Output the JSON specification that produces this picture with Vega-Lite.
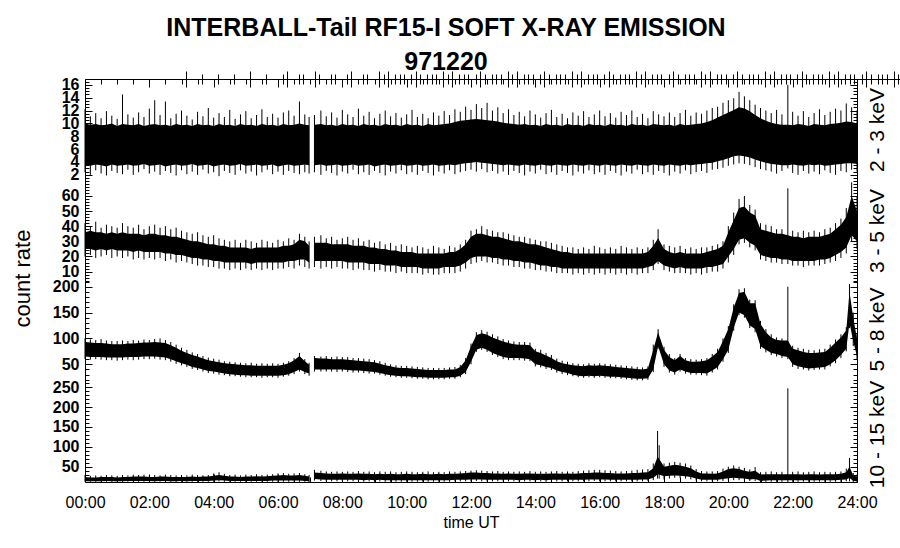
{
"$schema": "https://vega.github.io/schema/vega-lite/v6.json",
"width": 772, "height": 403,
"autosize": {"type": "none"},
"padding": {"left": 85, "top": 79, "right": 43, "bottom": 66},
"background": "white",
"title": {"text": ["INTERBALL-Tail RF15-I SOFT X-RAY EMISSION", "971220"], "fontSize": 25, "fontWeight": "bold", "anchor": "middle", "lineHeight": 34, "offset": 6, "dx": -25, "dy": 10, "color": "black", "font": "Liberation Sans"},
"datasets": {
"p1": [
{"t":0,"a":3.5,"b":10.0,"c":2.4,"d":12.2},{"t":10,"a":3.4,"b":9.8,"c":2.0,"d":11.1},{"t":20,"a":3.6,"b":9.9,"c":2.7,"d":11.6},{"t":30,"a":3.5,"b":9.7,"c":2.2,"d":10.8},{"t":40,"a":3.3,"b":9.8,"c":1.9,"d":11.9},{"t":50,"a":3.6,"b":10.0,"c":2.6,"d":11.2},{"t":60,"a":3.4,"b":9.6,"c":2.3,"d":10.7},{"t":70,"a":3.5,"b":9.9,"c":2.1,"d":14.5},{"t":80,"a":3.6,"b":9.8,"c":2.8,"d":11.4},{"t":90,"a":3.4,"b":9.7,"c":2.0,"d":10.9},
{"t":100,"a":3.5,"b":9.9,"c":2.4,"d":11.7},{"t":110,"a":3.7,"b":9.6,"c":2.9,"d":11.0},{"t":120,"a":3.4,"b":9.8,"c":2.2,"d":12.3},{"t":130,"a":3.5,"b":9.9,"c":2.5,"d":13.6},{"t":140,"a":3.6,"b":9.7,"c":2.0,"d":11.3},{"t":150,"a":3.3,"b":9.8,"c":2.6,"d":13.4},{"t":160,"a":3.5,"b":9.6,"c":2.3,"d":10.8},{"t":170,"a":3.6,"b":9.9,"c":1.9,"d":11.5},{"t":180,"a":3.4,"b":9.7,"c":2.7,"d":12.0},{"t":190,"a":3.5,"b":9.8,"c":2.1,"d":11.2},
{"t":200,"a":3.7,"b":9.6,"c":2.5,"d":10.6},{"t":210,"a":3.4,"b":9.9,"c":2.0,"d":11.8},{"t":220,"a":3.5,"b":9.7,"c":2.8,"d":11.1},{"t":230,"a":3.6,"b":9.8,"c":2.2,"d":12.4},{"t":240,"a":3.3,"b":9.6,"c":2.4,"d":10.9},{"t":250,"a":3.5,"b":9.9,"c":1.8,"d":11.6},{"t":260,"a":3.6,"b":9.7,"c":2.6,"d":11.0},{"t":270,"a":3.4,"b":9.8,"c":2.3,"d":12.1},{"t":280,"a":3.5,"b":9.6,"c":2.0,"d":10.7},{"t":290,"a":3.7,"b":9.9,"c":2.7,"d":11.4},
{"t":300,"a":3.4,"b":9.7,"c":2.2,"d":11.9},{"t":310,"a":3.5,"b":9.8,"c":2.5,"d":10.8},{"t":320,"a":3.6,"b":9.6,"c":1.9,"d":11.3},{"t":330,"a":3.4,"b":9.9,"c":2.4,"d":12.2},{"t":340,"a":3.5,"b":9.7,"c":2.8,"d":11.0},{"t":350,"a":3.6,"b":9.8,"c":2.1,"d":11.5},{"t":360,"a":3.3,"b":9.6,"c":2.5,"d":10.9},{"t":370,"a":3.5,"b":9.9,"c":2.0,"d":11.7},{"t":380,"a":3.6,"b":9.7,"c":2.6,"d":12.0},{"t":390,"a":3.4,"b":9.8,"c":2.3,"d":11.2},
{"t":400,"a":3.5,"b":10.0,"c":2.1,"d":13.4},{"t":410,"a":3.6,"b":9.8,"c":2.4,"d":11.4},{"t":418,"a":3.5,"b":9.7,"c":2.2,"d":11.0},{"t":423,"a":null,"b":null,"c":null,"d":null},{"t":428,"a":3.5,"b":9.8,"c":2.4,"d":11.3},{"t":440,"a":3.6,"b":9.9,"c":2.0,"d":12.0},{"t":450,"a":3.4,"b":9.7,"c":2.6,"d":11.1},{"t":460,"a":3.5,"b":9.8,"c":2.3,"d":11.7},{"t":470,"a":3.6,"b":9.6,"c":1.9,"d":10.9},{"t":480,"a":3.4,"b":9.9,"c":2.5,"d":12.1},{"t":490,"a":3.5,"b":9.7,"c":2.2,"d":11.4},
{"t":500,"a":3.6,"b":9.8,"c":2.8,"d":11.0},{"t":510,"a":3.4,"b":9.6,"c":2.1,"d":12.3},{"t":520,"a":3.5,"b":9.9,"c":2.4,"d":11.2},{"t":530,"a":3.6,"b":9.7,"c":2.0,"d":11.8},{"t":540,"a":3.3,"b":9.8,"c":2.6,"d":10.8},{"t":550,"a":3.5,"b":9.6,"c":2.3,"d":11.5},{"t":560,"a":3.6,"b":9.9,"c":1.9,"d":12.0},{"t":570,"a":3.4,"b":9.7,"c":2.5,"d":11.1},{"t":580,"a":3.5,"b":9.8,"c":2.2,"d":11.6},{"t":590,"a":3.6,"b":9.6,"c":2.7,"d":10.9},
{"t":600,"a":3.4,"b":9.9,"c":2.1,"d":11.4},{"t":610,"a":3.5,"b":9.7,"c":2.4,"d":12.1},{"t":620,"a":3.6,"b":9.8,"c":2.0,"d":11.0},{"t":630,"a":3.4,"b":9.6,"c":2.6,"d":11.5},{"t":640,"a":3.5,"b":9.9,"c":2.3,"d":10.8},{"t":650,"a":3.6,"b":9.7,"c":1.9,"d":11.7},{"t":660,"a":3.4,"b":9.8,"c":2.5,"d":11.2},{"t":670,"a":3.5,"b":9.9,"c":2.2,"d":11.9},{"t":680,"a":3.6,"b":10.0,"c":2.7,"d":11.3},{"t":690,"a":3.5,"b":10.2,"c":2.1,"d":12.2},
{"t":700,"a":3.7,"b":10.4,"c":2.4,"d":11.8},{"t":710,"a":3.8,"b":10.5,"c":2.6,"d":12.6},{"t":720,"a":3.9,"b":10.6,"c":2.8,"d":12.1},{"t":730,"a":4.0,"b":10.7,"c":2.5,"d":13.0},{"t":740,"a":3.9,"b":10.6,"c":2.9,"d":12.4},{"t":750,"a":3.8,"b":10.5,"c":2.4,"d":13.2},{"t":760,"a":3.7,"b":10.4,"c":2.6,"d":12.0},{"t":770,"a":3.6,"b":10.3,"c":2.2,"d":12.5},{"t":780,"a":3.5,"b":10.1,"c":2.5,"d":11.6},{"t":790,"a":3.6,"b":10.0,"c":2.0,"d":12.2},
{"t":800,"a":3.5,"b":9.9,"c":2.6,"d":11.3},{"t":810,"a":3.4,"b":9.8,"c":2.3,"d":11.8},{"t":820,"a":3.6,"b":9.9,"c":1.9,"d":11.1},{"t":830,"a":3.5,"b":9.7,"c":2.5,"d":12.0},{"t":840,"a":3.4,"b":9.8,"c":2.2,"d":11.4},{"t":850,"a":3.6,"b":9.6,"c":2.8,"d":10.9},{"t":860,"a":3.5,"b":9.9,"c":2.1,"d":11.6},{"t":870,"a":3.4,"b":9.7,"c":2.4,"d":12.1},{"t":880,"a":3.6,"b":9.8,"c":2.0,"d":11.0},{"t":890,"a":3.5,"b":9.6,"c":2.6,"d":11.5},
{"t":900,"a":3.4,"b":9.9,"c":2.3,"d":10.8},{"t":910,"a":3.6,"b":9.7,"c":1.9,"d":11.7},{"t":920,"a":3.5,"b":9.8,"c":2.5,"d":11.2},{"t":930,"a":3.4,"b":9.6,"c":2.2,"d":11.9},{"t":940,"a":3.6,"b":9.9,"c":2.7,"d":11.0},{"t":950,"a":3.5,"b":9.7,"c":2.1,"d":11.4},{"t":960,"a":3.4,"b":9.8,"c":2.4,"d":12.0},{"t":970,"a":3.6,"b":9.6,"c":2.0,"d":11.1},{"t":980,"a":3.5,"b":9.9,"c":2.6,"d":11.6},{"t":990,"a":3.4,"b":9.7,"c":2.3,"d":10.9},
{"t":1000,"a":3.6,"b":9.8,"c":1.9,"d":11.8},{"t":1010,"a":3.5,"b":9.6,"c":2.5,"d":11.3},{"t":1020,"a":3.4,"b":9.9,"c":2.2,"d":12.0},{"t":1030,"a":3.6,"b":9.7,"c":2.8,"d":11.0},{"t":1040,"a":3.5,"b":9.8,"c":2.1,"d":11.5},{"t":1050,"a":3.4,"b":9.6,"c":2.4,"d":10.8},{"t":1060,"a":3.6,"b":9.9,"c":2.0,"d":11.9},{"t":1070,"a":3.5,"b":9.8,"c":2.6,"d":11.4},{"t":1080,"a":3.4,"b":9.7,"c":2.3,"d":11.1},{"t":1090,"a":3.6,"b":9.8,"c":1.9,"d":11.7},
{"t":1100,"a":3.5,"b":9.6,"c":2.5,"d":11.0},{"t":1110,"a":3.4,"b":9.9,"c":2.2,"d":11.6},{"t":1120,"a":3.6,"b":9.7,"c":2.7,"d":12.1},{"t":1130,"a":3.5,"b":9.8,"c":2.1,"d":11.2},{"t":1140,"a":3.6,"b":9.9,"c":2.4,"d":11.7},{"t":1150,"a":3.7,"b":10.0,"c":2.6,"d":11.5},{"t":1160,"a":3.8,"b":10.2,"c":2.3,"d":12.0},{"t":1170,"a":3.9,"b":10.5,"c":2.8,"d":12.4},{"t":1180,"a":4.1,"b":10.9,"c":2.9,"d":12.6},{"t":1190,"a":4.3,"b":11.3,"c":3.1,"d":13.2},
{"t":1200,"a":4.6,"b":11.7,"c":3.4,"d":13.6},{"t":1210,"a":4.9,"b":12.1,"c":3.6,"d":13.9},{"t":1220,"a":5.0,"b":12.5,"c":3.8,"d":14.9},{"t":1230,"a":4.9,"b":12.3,"c":3.7,"d":14.2},{"t":1240,"a":4.7,"b":11.9,"c":3.5,"d":13.6},{"t":1250,"a":4.4,"b":11.3,"c":3.2,"d":12.9},{"t":1260,"a":4.1,"b":10.8,"c":2.9,"d":12.4},{"t":1270,"a":3.9,"b":10.4,"c":2.7,"d":12.0},{"t":1280,"a":3.7,"b":10.1,"c":2.5,"d":11.6},{"t":1290,"a":3.6,"b":9.9,"c":2.2,"d":12.1},
{"t":1300,"a":3.5,"b":9.8,"c":2.6,"d":11.4},{"t":1311,"a":3.5,"b":9.8,"c":3.0,"d":16.0},{"t":1320,"a":3.6,"b":9.7,"c":2.3,"d":11.8},{"t":1330,"a":3.5,"b":9.9,"c":2.0,"d":11.2},{"t":1340,"a":3.4,"b":9.8,"c":2.6,"d":11.9},{"t":1350,"a":3.6,"b":9.6,"c":2.2,"d":11.0},{"t":1360,"a":3.5,"b":9.9,"c":2.5,"d":11.6},{"t":1370,"a":3.6,"b":9.8,"c":2.1,"d":12.2},{"t":1380,"a":3.4,"b":9.7,"c":2.7,"d":11.3},{"t":1390,"a":3.5,"b":9.9,"c":2.3,"d":11.8},
{"t":1400,"a":3.6,"b":10.0,"c":2.0,"d":12.3},{"t":1410,"a":3.7,"b":10.1,"c":2.6,"d":12.0},{"t":1420,"a":3.8,"b":10.3,"c":2.4,"d":13.1},{"t":1430,"a":3.8,"b":10.2,"c":2.8,"d":12.5},{"t":1440,"a":3.7,"b":10.0,"c":2.5,"d":12.0}
],
"p2": [
{"t":0,"a":25,"b":36,"c":20,"d":42},{"t":10,"a":25,"b":37,"c":21,"d":40},{"t":20,"a":24,"b":36,"c":19,"d":43},{"t":30,"a":25,"b":36,"c":20,"d":39},{"t":40,"a":24,"b":35,"c":21,"d":41},{"t":50,"a":25,"b":36,"c":19,"d":40},{"t":60,"a":24,"b":35,"c":20,"d":39},{"t":70,"a":24,"b":36,"c":19,"d":42},{"t":80,"a":24,"b":35,"c":20,"d":40},{"t":90,"a":23,"b":35,"c":18,"d":39},
{"t":100,"a":24,"b":35,"c":19,"d":41},{"t":110,"a":23,"b":34,"c":18,"d":38},{"t":120,"a":23,"b":35,"c":19,"d":40},{"t":130,"a":23,"b":35,"c":18,"d":41},{"t":140,"a":23,"b":34,"c":19,"d":39},{"t":150,"a":22,"b":34,"c":17,"d":40},{"t":160,"a":22,"b":33,"c":18,"d":38},{"t":170,"a":21,"b":33,"c":16,"d":39},{"t":180,"a":21,"b":32,"c":17,"d":37},{"t":190,"a":20,"b":31,"c":16,"d":36},
{"t":200,"a":19,"b":30,"c":15,"d":35},{"t":210,"a":19,"b":30,"c":14,"d":36},{"t":220,"a":18,"b":29,"c":14,"d":34},{"t":230,"a":18,"b":28,"c":13,"d":33},{"t":240,"a":17,"b":28,"c":13,"d":34},{"t":250,"a":17,"b":27,"c":12,"d":32},{"t":260,"a":16,"b":27,"c":12,"d":31},{"t":270,"a":16,"b":26,"c":11,"d":30},{"t":280,"a":16,"b":26,"c":12,"d":31},{"t":290,"a":16,"b":26,"c":11,"d":29},
{"t":300,"a":16,"b":26,"c":12,"d":31},{"t":310,"a":15,"b":25,"c":11,"d":30},{"t":320,"a":16,"b":26,"c":12,"d":29},{"t":330,"a":16,"b":26,"c":11,"d":31},{"t":340,"a":16,"b":26,"c":12,"d":30},{"t":350,"a":16,"b":26,"c":11,"d":29},{"t":360,"a":16,"b":26,"c":12,"d":31},{"t":370,"a":16,"b":27,"c":12,"d":30},{"t":380,"a":17,"b":27,"c":13,"d":32},{"t":390,"a":17,"b":28,"c":12,"d":31},
{"t":400,"a":18,"b":31,"c":14,"d":35},{"t":410,"a":18,"b":30,"c":13,"d":33},{"t":418,"a":16,"b":27,"c":12,"d":30},{"t":423,"a":null,"b":null,"c":null,"d":null},{"t":428,"a":17,"b":29,"c":13,"d":33},{"t":440,"a":17,"b":29,"c":12,"d":34},{"t":450,"a":17,"b":29,"c":13,"d":32},{"t":460,"a":17,"b":28,"c":12,"d":33},{"t":470,"a":17,"b":28,"c":13,"d":31},{"t":480,"a":17,"b":28,"c":12,"d":32},{"t":490,"a":16,"b":28,"c":12,"d":33},
{"t":500,"a":16,"b":27,"c":11,"d":31},{"t":510,"a":16,"b":27,"c":12,"d":32},{"t":520,"a":16,"b":27,"c":11,"d":30},{"t":530,"a":15,"b":26,"c":11,"d":31},{"t":540,"a":15,"b":26,"c":10,"d":29},{"t":550,"a":15,"b":25,"c":11,"d":30},{"t":560,"a":14,"b":25,"c":10,"d":28},{"t":570,"a":14,"b":24,"c":10,"d":29},{"t":580,"a":14,"b":24,"c":9,"d":27},{"t":590,"a":13,"b":23,"c":10,"d":28},
{"t":600,"a":13,"b":23,"c":9,"d":27},{"t":610,"a":13,"b":23,"c":9,"d":26},{"t":620,"a":13,"b":22,"c":9,"d":27},{"t":630,"a":12,"b":22,"c":8,"d":26},{"t":640,"a":12,"b":22,"c":9,"d":25},{"t":650,"a":12,"b":22,"c":8,"d":27},{"t":660,"a":12,"b":22,"c":8,"d":26},{"t":670,"a":13,"b":22,"c":9,"d":25},{"t":680,"a":13,"b":23,"c":9,"d":27},{"t":690,"a":13,"b":23,"c":9,"d":26},
{"t":700,"a":14,"b":25,"c":10,"d":28},{"t":710,"a":16,"b":28,"c":12,"d":31},{"t":720,"a":19,"b":33,"c":15,"d":37},{"t":730,"a":20,"b":35,"c":16,"d":38},{"t":740,"a":20,"b":35,"c":17,"d":40},{"t":750,"a":20,"b":34,"c":16,"d":38},{"t":760,"a":19,"b":33,"c":16,"d":37},{"t":770,"a":19,"b":33,"c":15,"d":36},{"t":780,"a":18,"b":32,"c":14,"d":36},{"t":790,"a":18,"b":31,"c":14,"d":35},
{"t":800,"a":17,"b":30,"c":13,"d":34},{"t":810,"a":17,"b":30,"c":13,"d":33},{"t":820,"a":16,"b":29,"c":12,"d":33},{"t":830,"a":16,"b":28,"c":12,"d":32},{"t":840,"a":15,"b":28,"c":11,"d":31},{"t":850,"a":14,"b":27,"c":11,"d":30},{"t":860,"a":14,"b":26,"c":10,"d":30},{"t":870,"a":13,"b":25,"c":10,"d":29},{"t":880,"a":13,"b":24,"c":9,"d":28},{"t":890,"a":12,"b":23,"c":9,"d":27},
{"t":900,"a":12,"b":23,"c":9,"d":26},{"t":910,"a":12,"b":22,"c":8,"d":26},{"t":920,"a":12,"b":22,"c":9,"d":25},{"t":930,"a":12,"b":22,"c":8,"d":26},{"t":940,"a":12,"b":22,"c":9,"d":25},{"t":950,"a":12,"b":22,"c":8,"d":27},{"t":960,"a":12,"b":22,"c":9,"d":26},{"t":970,"a":12,"b":22,"c":8,"d":25},{"t":980,"a":12,"b":22,"c":9,"d":26},{"t":990,"a":12,"b":22,"c":8,"d":25},
{"t":1000,"a":12,"b":22,"c":9,"d":27},{"t":1010,"a":12,"b":22,"c":8,"d":26},{"t":1020,"a":12,"b":22,"c":9,"d":25},{"t":1030,"a":12,"b":22,"c":8,"d":26},{"t":1040,"a":12,"b":22,"c":9,"d":25},{"t":1050,"a":13,"b":23,"c":9,"d":26},{"t":1060,"a":14,"b":27,"c":11,"d":31},{"t":1069,"a":17,"b":32,"c":15,"d":38},{"t":1080,"a":14,"b":25,"c":11,"d":28},{"t":1090,"a":13,"b":23,"c":10,"d":27},
{"t":1100,"a":12,"b":22,"c":9,"d":26},{"t":1110,"a":13,"b":23,"c":9,"d":27},{"t":1120,"a":12,"b":22,"c":9,"d":25},{"t":1130,"a":12,"b":22,"c":8,"d":26},{"t":1140,"a":12,"b":22,"c":9,"d":25},{"t":1150,"a":12,"b":22,"c":8,"d":26},{"t":1160,"a":13,"b":23,"c":9,"d":26},{"t":1170,"a":13,"b":24,"c":10,"d":27},{"t":1180,"a":14,"b":25,"c":10,"d":28},{"t":1190,"a":15,"b":27,"c":12,"d":30},
{"t":1200,"a":20,"b":36,"c":16,"d":40},{"t":1210,"a":25,"b":44,"c":21,"d":49},{"t":1220,"a":31,"b":52,"c":28,"d":58},{"t":1230,"a":32,"b":53,"c":29,"d":60},{"t":1240,"a":29,"b":49,"c":26,"d":54},{"t":1250,"a":27,"b":47,"c":24,"d":51},{"t":1260,"a":21,"b":38,"c":18,"d":42},{"t":1270,"a":20,"b":37,"c":17,"d":41},{"t":1280,"a":19,"b":36,"c":16,"d":40},{"t":1290,"a":19,"b":35,"c":16,"d":38},
{"t":1300,"a":18,"b":35,"c":15,"d":38},{"t":1311,"a":18,"b":34,"c":15,"d":65},{"t":1320,"a":17,"b":33,"c":14,"d":37},{"t":1330,"a":17,"b":33,"c":14,"d":36},{"t":1340,"a":17,"b":32,"c":13,"d":37},{"t":1350,"a":17,"b":33,"c":14,"d":36},{"t":1360,"a":17,"b":33,"c":14,"d":37},{"t":1370,"a":18,"b":33,"c":14,"d":36},{"t":1380,"a":18,"b":34,"c":15,"d":38},{"t":1390,"a":19,"b":35,"c":16,"d":39},
{"t":1400,"a":21,"b":38,"c":17,"d":42},{"t":1410,"a":23,"b":41,"c":19,"d":45},{"t":1420,"a":26,"b":46,"c":22,"d":52},{"t":1430,"a":34,"b":60,"c":30,"d":69},{"t":1440,"a":30,"b":50,"c":25,"d":60}
],
"p3": [
{"t":0,"a":65,"b":93,"c":60,"d":100},{"t":10,"a":64,"b":92,"c":59,"d":98},{"t":20,"a":64,"b":91,"c":60,"d":97},{"t":30,"a":64,"b":91,"c":59,"d":99},{"t":40,"a":63,"b":90,"c":58,"d":96},{"t":50,"a":63,"b":89,"c":58,"d":95},{"t":60,"a":63,"b":89,"c":57,"d":95},{"t":70,"a":63,"b":89,"c":58,"d":96},{"t":80,"a":64,"b":90,"c":59,"d":95},{"t":90,"a":64,"b":90,"c":58,"d":97},
{"t":100,"a":64,"b":91,"c":59,"d":96},{"t":110,"a":65,"b":92,"c":60,"d":98},{"t":120,"a":65,"b":92,"c":60,"d":97},{"t":130,"a":65,"b":93,"c":61,"d":99},{"t":140,"a":64,"b":92,"c":59,"d":100},{"t":150,"a":63,"b":91,"c":58,"d":97},{"t":160,"a":60,"b":87,"c":55,"d":93},{"t":170,"a":56,"b":82,"c":51,"d":88},{"t":180,"a":52,"b":76,"c":48,"d":82},{"t":190,"a":49,"b":72,"c":45,"d":78},
{"t":200,"a":45,"b":68,"c":41,"d":73},{"t":210,"a":43,"b":65,"c":39,"d":70},{"t":220,"a":40,"b":61,"c":36,"d":66},{"t":230,"a":37,"b":58,"c":33,"d":63},{"t":240,"a":36,"b":56,"c":32,"d":61},{"t":250,"a":34,"b":54,"c":30,"d":59},{"t":260,"a":32,"b":52,"c":29,"d":56},{"t":270,"a":31,"b":51,"c":27,"d":55},{"t":280,"a":30,"b":50,"c":27,"d":54},{"t":290,"a":29,"b":49,"c":26,"d":53},
{"t":300,"a":29,"b":48,"c":25,"d":52},{"t":310,"a":28,"b":48,"c":25,"d":53},{"t":320,"a":28,"b":47,"c":25,"d":51},{"t":330,"a":28,"b":47,"c":24,"d":52},{"t":340,"a":28,"b":47,"c":25,"d":51},{"t":350,"a":28,"b":47,"c":25,"d":52},{"t":360,"a":28,"b":47,"c":24,"d":51},{"t":370,"a":29,"b":49,"c":26,"d":53},{"t":380,"a":31,"b":52,"c":28,"d":56},{"t":390,"a":35,"b":58,"c":31,"d":62},
{"t":400,"a":40,"b":66,"c":36,"d":72},{"t":410,"a":35,"b":56,"c":31,"d":60},{"t":418,"a":32,"b":49,"c":28,"d":53},{"t":423,"a":null,"b":null,"c":null,"d":null},{"t":428,"a":40,"b":62,"c":36,"d":66},{"t":440,"a":40,"b":61,"c":36,"d":65},{"t":450,"a":40,"b":61,"c":36,"d":66},{"t":460,"a":40,"b":60,"c":36,"d":64},{"t":470,"a":40,"b":60,"c":35,"d":65},{"t":480,"a":40,"b":60,"c":36,"d":64},{"t":490,"a":39,"b":59,"c":35,"d":64},
{"t":500,"a":38,"b":58,"c":34,"d":62},{"t":510,"a":38,"b":57,"c":34,"d":62},{"t":520,"a":37,"b":56,"c":33,"d":61},{"t":530,"a":36,"b":55,"c":32,"d":60},{"t":540,"a":35,"b":54,"c":32,"d":58},{"t":550,"a":33,"b":51,"c":30,"d":56},{"t":560,"a":31,"b":48,"c":28,"d":53},{"t":570,"a":29,"b":46,"c":26,"d":50},{"t":580,"a":28,"b":44,"c":25,"d":48},{"t":590,"a":27,"b":43,"c":24,"d":47},
{"t":600,"a":27,"b":43,"c":24,"d":47},{"t":610,"a":26,"b":42,"c":23,"d":46},{"t":620,"a":25,"b":41,"c":22,"d":45},{"t":630,"a":25,"b":40,"c":22,"d":44},{"t":640,"a":24,"b":39,"c":21,"d":43},{"t":650,"a":24,"b":39,"c":21,"d":43},{"t":660,"a":24,"b":39,"c":21,"d":43},{"t":670,"a":24,"b":39,"c":21,"d":43},{"t":680,"a":25,"b":40,"c":22,"d":44},{"t":690,"a":25,"b":40,"c":22,"d":45},
{"t":700,"a":28,"b":45,"c":25,"d":49},{"t":710,"a":35,"b":58,"c":31,"d":62},{"t":720,"a":55,"b":85,"c":50,"d":90},{"t":730,"a":78,"b":106,"c":74,"d":112},{"t":740,"a":82,"b":110,"c":78,"d":116},{"t":750,"a":78,"b":107,"c":74,"d":113},{"t":760,"a":72,"b":102,"c":68,"d":108},{"t":770,"a":68,"b":98,"c":64,"d":104},{"t":780,"a":64,"b":94,"c":60,"d":99},{"t":790,"a":62,"b":91,"c":58,"d":96},
{"t":800,"a":62,"b":89,"c":58,"d":94},{"t":810,"a":62,"b":88,"c":58,"d":93},{"t":820,"a":61,"b":88,"c":57,"d":93},{"t":830,"a":60,"b":87,"c":56,"d":92},{"t":840,"a":50,"b":75,"c":46,"d":80},{"t":850,"a":48,"b":72,"c":44,"d":78},{"t":860,"a":45,"b":67,"c":41,"d":72},{"t":870,"a":43,"b":62,"c":39,"d":68},{"t":880,"a":38,"b":56,"c":34,"d":61},{"t":890,"a":35,"b":52,"c":31,"d":57},
{"t":900,"a":33,"b":50,"c":29,"d":55},{"t":910,"a":30,"b":48,"c":27,"d":52},{"t":920,"a":28,"b":47,"c":25,"d":51},{"t":930,"a":27,"b":46,"c":24,"d":50},{"t":940,"a":28,"b":48,"c":25,"d":52},{"t":950,"a":27,"b":47,"c":24,"d":51},{"t":960,"a":28,"b":48,"c":25,"d":52},{"t":970,"a":27,"b":47,"c":24,"d":51},{"t":980,"a":26,"b":46,"c":23,"d":50},{"t":990,"a":26,"b":45,"c":23,"d":49},
{"t":1000,"a":25,"b":44,"c":22,"d":48},{"t":1010,"a":24,"b":43,"c":21,"d":47},{"t":1020,"a":23,"b":42,"c":20,"d":46},{"t":1030,"a":22,"b":41,"c":19,"d":45},{"t":1040,"a":22,"b":40,"c":19,"d":44},{"t":1050,"a":23,"b":42,"c":20,"d":46},{"t":1060,"a":40,"b":78,"c":35,"d":88},{"t":1069,"a":85,"b":112,"c":80,"d":118},{"t":1080,"a":50,"b":78,"c":45,"d":84},{"t":1090,"a":38,"b":64,"c":34,"d":70},
{"t":1100,"a":34,"b":58,"c":30,"d":62},{"t":1110,"a":40,"b":66,"c":36,"d":70},{"t":1120,"a":36,"b":58,"c":32,"d":62},{"t":1130,"a":33,"b":55,"c":30,"d":60},{"t":1140,"a":33,"b":55,"c":30,"d":59},{"t":1150,"a":33,"b":56,"c":29,"d":60},{"t":1160,"a":32,"b":58,"c":28,"d":62},{"t":1170,"a":38,"b":65,"c":34,"d":70},{"t":1180,"a":45,"b":74,"c":40,"d":80},{"t":1190,"a":60,"b":95,"c":55,"d":100},
{"t":1200,"a":78,"b":118,"c":72,"d":124},{"t":1210,"a":120,"b":160,"c":115,"d":166},{"t":1220,"a":150,"b":188,"c":145,"d":195},{"t":1230,"a":145,"b":190,"c":140,"d":197},{"t":1240,"a":125,"b":168,"c":120,"d":175},{"t":1250,"a":118,"b":168,"c":112,"d":174},{"t":1260,"a":85,"b":128,"c":80,"d":134},{"t":1270,"a":78,"b":112,"c":73,"d":118},{"t":1280,"a":72,"b":102,"c":68,"d":108},{"t":1290,"a":70,"b":97,"c":65,"d":102},
{"t":1300,"a":66,"b":96,"c":62,"d":100},{"t":1311,"a":64,"b":96,"c":60,"d":200},{"t":1320,"a":50,"b":80,"c":45,"d":86},{"t":1330,"a":46,"b":77,"c":41,"d":82},{"t":1340,"a":44,"b":74,"c":40,"d":80},{"t":1350,"a":42,"b":72,"c":38,"d":78},{"t":1360,"a":43,"b":72,"c":39,"d":77},{"t":1370,"a":44,"b":73,"c":40,"d":79},{"t":1380,"a":45,"b":74,"c":40,"d":80},{"t":1390,"a":50,"b":82,"c":46,"d":88},
{"t":1400,"a":58,"b":92,"c":52,"d":98},{"t":1410,"a":68,"b":102,"c":62,"d":108},{"t":1420,"a":80,"b":116,"c":75,"d":122},{"t":1426,"a":130,"b":190,"c":120,"d":205},{"t":1433,"a":95,"b":140,"c":85,"d":150},{"t":1440,"a":65,"b":100,"c":60,"d":110}
],
"p4": [
{"t":0,"a":13,"b":24,"c":12,"d":29},{"t":10,"a":13,"b":23,"c":12,"d":27},{"t":20,"a":13,"b":23,"c":12,"d":28},{"t":30,"a":13,"b":24,"c":12,"d":27},{"t":40,"a":14,"b":24,"c":12,"d":29},{"t":50,"a":13,"b":24,"c":12,"d":28},{"t":60,"a":13,"b":23,"c":12,"d":27},{"t":70,"a":13,"b":24,"c":12,"d":29},{"t":80,"a":14,"b":24,"c":12,"d":28},{"t":90,"a":14,"b":25,"c":12,"d":30},
{"t":100,"a":14,"b":25,"c":12,"d":29},{"t":110,"a":14,"b":25,"c":12,"d":30},{"t":120,"a":14,"b":24,"c":12,"d":28},{"t":130,"a":13,"b":24,"c":12,"d":29},{"t":140,"a":14,"b":25,"c":12,"d":28},{"t":150,"a":14,"b":25,"c":12,"d":30},{"t":160,"a":13,"b":24,"c":12,"d":29},{"t":170,"a":13,"b":24,"c":12,"d":28},{"t":180,"a":14,"b":24,"c":12,"d":29},{"t":190,"a":13,"b":24,"c":12,"d":28},
{"t":200,"a":14,"b":25,"c":12,"d":30},{"t":210,"a":14,"b":24,"c":12,"d":29},{"t":220,"a":14,"b":25,"c":12,"d":28},{"t":230,"a":14,"b":25,"c":12,"d":29},{"t":240,"a":15,"b":27,"c":12,"d":33},{"t":250,"a":16,"b":29,"c":13,"d":36},{"t":260,"a":15,"b":27,"c":12,"d":32},{"t":270,"a":14,"b":25,"c":12,"d":29},{"t":280,"a":14,"b":25,"c":12,"d":30},{"t":290,"a":14,"b":24,"c":12,"d":28},
{"t":300,"a":14,"b":25,"c":12,"d":30},{"t":310,"a":14,"b":25,"c":12,"d":29},{"t":320,"a":14,"b":26,"c":12,"d":31},{"t":330,"a":14,"b":25,"c":12,"d":29},{"t":340,"a":14,"b":26,"c":12,"d":30},{"t":350,"a":15,"b":27,"c":12,"d":31},{"t":360,"a":15,"b":28,"c":12,"d":33},{"t":370,"a":15,"b":29,"c":12,"d":34},{"t":380,"a":15,"b":28,"c":12,"d":32},{"t":390,"a":15,"b":28,"c":12,"d":33},
{"t":400,"a":15,"b":29,"c":12,"d":34},{"t":410,"a":14,"b":27,"c":12,"d":31},{"t":418,"a":13,"b":25,"c":11.5,"d":29},{"t":423,"a":null,"b":null,"c":null,"d":null},{"t":428,"a":19,"b":35,"c":15,"d":42},{"t":440,"a":18,"b":34,"c":14,"d":40},{"t":450,"a":17,"b":33,"c":13,"d":38},{"t":460,"a":17,"b":32,"c":13,"d":37},{"t":470,"a":17,"b":32,"c":13,"d":38},{"t":480,"a":17,"b":33,"c":13,"d":37},{"t":490,"a":17,"b":32,"c":13,"d":38},
{"t":500,"a":17,"b":32,"c":13,"d":37},{"t":510,"a":17,"b":33,"c":13,"d":39},{"t":520,"a":16,"b":32,"c":12,"d":37},{"t":530,"a":17,"b":32,"c":13,"d":38},{"t":540,"a":16,"b":31,"c":12,"d":36},{"t":550,"a":17,"b":32,"c":13,"d":38},{"t":560,"a":16,"b":31,"c":12,"d":37},{"t":570,"a":16,"b":32,"c":12,"d":38},{"t":580,"a":16,"b":31,"c":12,"d":36},{"t":590,"a":16,"b":31,"c":12,"d":37},
{"t":600,"a":16,"b":32,"c":12,"d":38},{"t":610,"a":16,"b":31,"c":12,"d":37},{"t":620,"a":16,"b":31,"c":12,"d":36},{"t":630,"a":16,"b":32,"c":12,"d":37},{"t":640,"a":16,"b":31,"c":12,"d":38},{"t":650,"a":16,"b":31,"c":12,"d":36},{"t":660,"a":16,"b":32,"c":12,"d":37},{"t":670,"a":16,"b":31,"c":12,"d":36},{"t":680,"a":16,"b":32,"c":12,"d":38},{"t":690,"a":17,"b":32,"c":13,"d":37},
{"t":700,"a":17,"b":33,"c":13,"d":38},{"t":710,"a":17,"b":34,"c":13,"d":39},{"t":720,"a":18,"b":35,"c":13,"d":40},{"t":730,"a":18,"b":35,"c":14,"d":41},{"t":740,"a":18,"b":34,"c":13,"d":40},{"t":750,"a":17,"b":34,"c":13,"d":39},{"t":760,"a":17,"b":33,"c":13,"d":38},{"t":770,"a":17,"b":33,"c":13,"d":39},{"t":780,"a":17,"b":32,"c":13,"d":37},{"t":790,"a":17,"b":33,"c":13,"d":38},
{"t":800,"a":17,"b":32,"c":13,"d":37},{"t":810,"a":16,"b":32,"c":12,"d":38},{"t":820,"a":17,"b":33,"c":13,"d":37},{"t":830,"a":17,"b":33,"c":13,"d":39},{"t":840,"a":16,"b":32,"c":12,"d":37},{"t":850,"a":17,"b":32,"c":13,"d":38},{"t":860,"a":16,"b":32,"c":12,"d":37},{"t":870,"a":17,"b":33,"c":13,"d":38},{"t":880,"a":17,"b":33,"c":13,"d":39},{"t":890,"a":17,"b":32,"c":13,"d":37},
{"t":900,"a":17,"b":33,"c":13,"d":38},{"t":910,"a":17,"b":32,"c":13,"d":37},{"t":920,"a":17,"b":33,"c":13,"d":39},{"t":930,"a":17,"b":34,"c":13,"d":40},{"t":940,"a":18,"b":34,"c":13,"d":41},{"t":950,"a":18,"b":35,"c":14,"d":42},{"t":960,"a":18,"b":35,"c":13,"d":42},{"t":970,"a":18,"b":34,"c":13,"d":41},{"t":980,"a":17,"b":34,"c":13,"d":40},{"t":990,"a":17,"b":33,"c":13,"d":39},
{"t":1000,"a":17,"b":33,"c":13,"d":38},{"t":1010,"a":17,"b":33,"c":13,"d":39},{"t":1020,"a":17,"b":34,"c":13,"d":40},{"t":1030,"a":17,"b":34,"c":13,"d":42},{"t":1040,"a":18,"b":35,"c":13,"d":43},{"t":1050,"a":18,"b":36,"c":14,"d":44},{"t":1060,"a":22,"b":46,"c":16,"d":58},{"t":1068,"a":30,"b":75,"c":20,"d":140},{"t":1071,"a":30,"b":70,"c":20,"d":104},{"t":1080,"a":26,"b":50,"c":18,"d":58},{"t":1090,"a":27,"b":52,"c":20,"d":60},
{"t":1100,"a":28,"b":55,"c":22,"d":62},{"t":1110,"a":27,"b":53,"c":21,"d":60},{"t":1120,"a":26,"b":50,"c":20,"d":58},{"t":1130,"a":24,"b":46,"c":18,"d":53},{"t":1140,"a":20,"b":38,"c":15,"d":44},{"t":1150,"a":17,"b":33,"c":13,"d":39},{"t":1160,"a":17,"b":33,"c":13,"d":38},{"t":1170,"a":17,"b":32,"c":13,"d":38},{"t":1180,"a":17,"b":33,"c":13,"d":39},{"t":1190,"a":19,"b":38,"c":14,"d":45},
{"t":1200,"a":21,"b":44,"c":16,"d":50},{"t":1210,"a":22,"b":46,"c":16,"d":53},{"t":1220,"a":21,"b":44,"c":16,"d":50},{"t":1230,"a":20,"b":40,"c":15,"d":47},{"t":1240,"a":18,"b":37,"c":14,"d":43},{"t":1250,"a":19,"b":40,"c":14,"d":49},{"t":1260,"a":14,"b":30,"c":11.5,"d":36},{"t":1270,"a":15,"b":31,"c":12,"d":37},{"t":1280,"a":16,"b":31,"c":12,"d":38},{"t":1290,"a":16,"b":31,"c":12,"d":36},
{"t":1300,"a":16,"b":31,"c":12,"d":37},{"t":1311,"a":16,"b":31,"c":11.5,"d":247},{"t":1320,"a":16,"b":31,"c":12,"d":37},{"t":1330,"a":16,"b":31,"c":12,"d":38},{"t":1340,"a":16,"b":30,"c":12,"d":36},{"t":1350,"a":16,"b":31,"c":12,"d":37},{"t":1360,"a":16,"b":31,"c":12,"d":38},{"t":1370,"a":16,"b":30,"c":12,"d":36},{"t":1380,"a":16,"b":31,"c":12,"d":37},{"t":1390,"a":16,"b":31,"c":12,"d":36},
{"t":1400,"a":16,"b":31,"c":12,"d":37},{"t":1410,"a":17,"b":32,"c":12,"d":38},{"t":1420,"a":18,"b":36,"c":13,"d":45},{"t":1426,"a":22,"b":50,"c":13,"d":72},{"t":1433,"a":14,"b":28,"c":11.5,"d":34},{"t":1440,"a":13,"b":25,"c":11.5,"d":30}
]
},
"layer": [
{"data": {"name": "p1"}, "mark": {"type": "area", "color": "black", "invalid": "break-paths-show-domains"},
 "encoding": {
  "x": {"field": "t", "type": "quantitative", "scale": {"domain": [0, 1440], "nice": false, "zero": false}, "axis": {"orient": "top", "values": [0,120,240,360,480,600,720,840,960,1080,1200,1320,1440], "tickSize": -8, "labels": false, "domain": false, "title": null}},
  "y": {"field": "a", "type": "quantitative", "scale": {"domain": [1.2, 16.9], "range": [101, 0], "nice": false, "zero": false}, "axis": {"orient": "left", "values": [2,4,6,8,10,12,14,16], "tickSize": -7, "labelPadding": 13, "labelFontSize": 16, "labelFontWeight": "bold", "domain": false, "title": null}},
  "y2": {"field": "b"}}},
{"data": {"name": "p1"}, "mark": {"type": "rule", "color": "black", "strokeWidth": 1},
 "encoding": {
  "x": {"field": "t", "type": "quantitative", "scale": {"domain": [0, 1440], "nice": false, "zero": false}, "axis": {"orient": "top", "values": [30,60,90,150,180,210,270,300,330,390,420,450,510,540,570,630,660,690,750,780,810,870,900,930,990,1020,1050,1110,1140,1170,1230,1260,1290,1350,1380,1410], "tickSize": -5, "labels": false, "domain": false, "title": null}},
  "y": {"field": "c", "type": "quantitative", "scale": {"domain": [1.2, 16.9], "range": [101, 0], "nice": false, "zero": false}, "axis": {"orient": "left", "values": [1.5,2,2.5,3,3.5,4,4.5,5,5.5,6,6.5,7,7.5,8,8.5,9,9.5,10,10.5,11,11.5,12,12.5,13,13.5,14,14.5,15,15.5,16,16.5], "tickSize": -4, "labels": false, "domain": false, "title": null}},
  "y2": {"field": "d"}}},
{"data": {"name": "p1"}, "mark": {"type": "point", "opacity": 0},
 "encoding": {
  "x": {"field": "t", "type": "quantitative", "scale": {"domain": [0, 1440], "nice": false, "zero": false}, "axis": {"orient": "top", "position": 101, "values": [0,120,240,360,480,600,720,840,960,1080,1200,1320,1440], "tickSize": 8, "labels": false, "domain": false, "title": null}},
  "y": {"field": "a", "type": "quantitative", "scale": {"domain": [1.2, 16.9], "range": [101, 0], "nice": false, "zero": false}, "axis": {"orient": "right", "values": [2,4,6,8,10,12,14,16], "tickSize": -7, "labels": false, "domain": false, "title": "2 - 3 keV", "titleAngle": 270, "titleX": 20, "titleY": 50.5, "titleAlign": "center", "titleBaseline": "middle", "titleFontSize": 21}}}},
{"data": {"name": "p1"}, "mark": {"type": "point", "opacity": 0},
 "encoding": {
  "x": {"field": "t", "type": "quantitative", "scale": {"domain": [0, 1440], "nice": false, "zero": false}, "axis": {"orient": "top", "position": 101, "values": [30,60,90,150,180,210,270,300,330,390,420,450,510,540,570,630,660,690,750,780,810,870,900,930,990,1020,1050,1110,1140,1170,1230,1260,1290,1350,1380,1410], "tickSize": 5, "labels": false, "domain": false, "title": null}},
  "y": {"field": "a", "type": "quantitative", "scale": {"domain": [1.2, 16.9], "range": [101, 0], "nice": false, "zero": false}, "axis": {"orient": "right", "values": [1.5,2,2.5,3,3.5,4,4.5,5,5.5,6,6.5,7,7.5,8,8.5,9,9.5,10,10.5,11,11.5,12,12.5,13,13.5,14,14.5,15,15.5,16,16.5], "tickSize": -4, "labels": false, "domain": false, "title": null}}}},

{"data": {"name": "p2"}, "mark": {"type": "area", "color": "black", "invalid": "break-paths-show-domains"},
 "encoding": {
  "x": {"field": "t", "type": "quantitative", "scale": {"domain": [0, 1440], "nice": false, "zero": false}, "axis": {"orient": "top", "position": 101, "values": [0,120,240,360,480,600,720,840,960,1080,1200,1320,1440], "tickSize": -8, "labels": false, "domain": true, "title": null}},
  "y": {"field": "a", "type": "quantitative", "scale": {"domain": [3.8, 70.5], "range": [202, 101], "nice": false, "zero": false}, "axis": {"orient": "left", "values": [10,20,30,40,50,60], "tickSize": -7, "labelPadding": 13, "labelFontSize": 16, "labelFontWeight": "bold", "domain": false, "title": null}},
  "y2": {"field": "b"}}},
{"data": {"name": "p2"}, "mark": {"type": "rule", "color": "black", "strokeWidth": 1},
 "encoding": {
  "x": {"field": "t", "type": "quantitative", "scale": {"domain": [0, 1440], "nice": false, "zero": false}, "axis": {"orient": "top", "position": 101, "values": [30,60,90,150,180,210,270,300,330,390,420,450,510,540,570,630,660,690,750,780,810,870,900,930,990,1020,1050,1110,1140,1170,1230,1260,1290,1350,1380,1410], "tickSize": -5, "labels": false, "domain": false, "title": null}},
  "y": {"field": "c", "type": "quantitative", "scale": {"domain": [3.8, 70.5], "range": [202, 101], "nice": false, "zero": false}, "axis": {"orient": "left", "values": [4,6,8,10,12,14,16,18,20,22,24,26,28,30,32,34,36,38,40,42,44,46,48,50,52,54,56,58,60,62,64,66,68,70], "tickSize": -4, "labels": false, "domain": false, "title": "count rate", "titleAngle": 270, "titleX": -63, "titleY": 199, "titleAlign": "center", "titleBaseline": "middle", "titleFontSize": 22}},
  "y2": {"field": "d"}}},
{"data": {"name": "p2"}, "mark": {"type": "point", "opacity": 0},
 "encoding": {
  "x": {"field": "t", "type": "quantitative", "scale": {"domain": [0, 1440], "nice": false, "zero": false}, "axis": {"orient": "top", "position": 202, "values": [0,120,240,360,480,600,720,840,960,1080,1200,1320,1440], "tickSize": 8, "labels": false, "domain": false, "title": null}},
  "y": {"field": "a", "type": "quantitative", "scale": {"domain": [3.8, 70.5], "range": [202, 101], "nice": false, "zero": false}, "axis": {"orient": "right", "values": [10,20,30,40,50,60], "tickSize": -7, "labels": false, "domain": false, "title": "3 - 5 keV", "titleAngle": 270, "titleX": 20, "titleY": 151.5, "titleAlign": "center", "titleBaseline": "middle", "titleFontSize": 21}}}},
{"data": {"name": "p2"}, "mark": {"type": "point", "opacity": 0},
 "encoding": {
  "x": {"field": "t", "type": "quantitative", "scale": {"domain": [0, 1440], "nice": false, "zero": false}, "axis": {"orient": "top", "position": 202, "values": [30,60,90,150,180,210,270,300,330,390,420,450,510,540,570,630,660,690,750,780,810,870,900,930,990,1020,1050,1110,1140,1170,1230,1260,1290,1350,1380,1410], "tickSize": 5, "labels": false, "domain": false, "title": null}},
  "y": {"field": "a", "type": "quantitative", "scale": {"domain": [3.8, 70.5], "range": [202, 101], "nice": false, "zero": false}, "axis": {"orient": "right", "values": [4,6,8,10,12,14,16,18,20,22,24,26,28,30,32,34,36,38,40,42,44,46,48,50,52,54,56,58,60,62,64,66,68,70], "tickSize": -4, "labels": false, "domain": false, "title": null}}}},

{"data": {"name": "p3"}, "mark": {"type": "area", "color": "black", "invalid": "break-paths-show-domains"},
 "encoding": {
  "x": {"field": "t", "type": "quantitative", "scale": {"domain": [0, 1440], "nice": false, "zero": false}, "axis": {"orient": "top", "position": 202, "values": [0,120,240,360,480,600,720,840,960,1080,1200,1320,1440], "tickSize": -8, "labels": false, "domain": true, "title": null}},
  "y": {"field": "a", "type": "quantitative", "scale": {"domain": [15.8, 211], "range": [303, 202], "nice": false, "zero": false}, "axis": {"orient": "left", "values": [50,100,150,200], "tickSize": -7, "labelPadding": 13, "labelFontSize": 16, "labelFontWeight": "bold", "domain": false, "title": null}},
  "y2": {"field": "b"}}},
{"data": {"name": "p3"}, "mark": {"type": "rule", "color": "black", "strokeWidth": 1},
 "encoding": {
  "x": {"field": "t", "type": "quantitative", "scale": {"domain": [0, 1440], "nice": false, "zero": false}, "axis": {"orient": "top", "position": 202, "values": [30,60,90,150,180,210,270,300,330,390,420,450,510,540,570,630,660,690,750,780,810,870,900,930,990,1020,1050,1110,1140,1170,1230,1260,1290,1350,1380,1410], "tickSize": -5, "labels": false, "domain": false, "title": null}},
  "y": {"field": "c", "type": "quantitative", "scale": {"domain": [15.8, 211], "range": [303, 202], "nice": false, "zero": false}, "axis": {"orient": "left", "values": [20,30,40,50,60,70,80,90,100,110,120,130,140,150,160,170,180,190,200,210], "tickSize": -4, "labels": false, "domain": false, "title": null}},
  "y2": {"field": "d"}}},
{"data": {"name": "p3"}, "mark": {"type": "point", "opacity": 0},
 "encoding": {
  "x": {"field": "t", "type": "quantitative", "scale": {"domain": [0, 1440], "nice": false, "zero": false}, "axis": {"orient": "top", "position": 303, "values": [0,120,240,360,480,600,720,840,960,1080,1200,1320,1440], "tickSize": 8, "labels": false, "domain": false, "title": null}},
  "y": {"field": "a", "type": "quantitative", "scale": {"domain": [15.8, 211], "range": [303, 202], "nice": false, "zero": false}, "axis": {"orient": "right", "values": [50,100,150,200], "tickSize": -7, "labels": false, "domain": false, "title": "5 - 8 keV", "titleAngle": 270, "titleX": 20, "titleY": 250, "titleAlign": "center", "titleBaseline": "middle", "titleFontSize": 21}}}},
{"data": {"name": "p3"}, "mark": {"type": "point", "opacity": 0},
 "encoding": {
  "x": {"field": "t", "type": "quantitative", "scale": {"domain": [0, 1440], "nice": false, "zero": false}, "axis": {"orient": "top", "position": 303, "values": [30,60,90,150,180,210,270,300,330,390,420,450,510,540,570,630,660,690,750,780,810,870,900,930,990,1020,1050,1110,1140,1170,1230,1260,1290,1350,1380,1410], "tickSize": 5, "labels": false, "domain": false, "title": null}},
  "y": {"field": "a", "type": "quantitative", "scale": {"domain": [15.8, 211], "range": [303, 202], "nice": false, "zero": false}, "axis": {"orient": "right", "values": [20,30,40,50,60,70,80,90,100,110,120,130,140,150,160,170,180,190,200,210], "tickSize": -4, "labels": false, "domain": false, "title": null}}}},

{"data": {"name": "p4"}, "mark": {"type": "area", "color": "black", "invalid": "break-paths-show-domains"},
 "encoding": {
  "x": {"field": "t", "type": "quantitative", "scale": {"domain": [0, 1440], "nice": false, "zero": false}, "axis": {"orient": "top", "position": 303, "values": [0,120,240,360,480,600,720,840,960,1080,1200,1320,1440], "tickSize": -8, "labels": false, "domain": true, "title": null}},
  "y": {"field": "a", "type": "quantitative", "scale": {"domain": [11.4, 263], "range": [403, 303], "nice": false, "zero": false}, "axis": {"orient": "left", "values": [50,100,150,200,250], "tickSize": -7, "labelPadding": 13, "labelFontSize": 16, "labelFontWeight": "bold", "domain": false, "title": null}},
  "y2": {"field": "b"}}},
{"data": {"name": "p4"}, "mark": {"type": "rule", "color": "black", "strokeWidth": 1},
 "encoding": {
  "x": {"field": "t", "type": "quantitative", "scale": {"domain": [0, 1440], "nice": false, "zero": false}, "axis": {"orient": "top", "position": 303, "values": [30,60,90,150,180,210,270,300,330,390,420,450,510,540,570,630,660,690,750,780,810,870,900,930,990,1020,1050,1110,1140,1170,1230,1260,1290,1350,1380,1410], "tickSize": -5, "labels": false, "domain": false, "title": null}},
  "y": {"field": "c", "type": "quantitative", "scale": {"domain": [11.4, 263], "range": [403, 303], "nice": false, "zero": false}, "axis": {"orient": "left", "values": [20,30,40,50,60,70,80,90,100,110,120,130,140,150,160,170,180,190,200,210,220,230,240,250,260], "tickSize": -4, "labels": false, "domain": false, "title": null}},
  "y2": {"field": "d"}}},
{"data": {"name": "p4"}, "mark": {"type": "point", "opacity": 0},
 "encoding": {
  "x": {"field": "t", "type": "quantitative", "scale": {"domain": [0, 1440], "nice": false, "zero": false}, "axis": {"orient": "bottom", "values": [0,120,240,360,480,600,720,840,960,1080,1200,1320,1440], "tickSize": -8, "labels": true, "labelExpr": "(datum.value < 600 ? '0' : '') + floor(datum.value / 60) + ':00'", "labelPadding": 20, "labelFontSize": 16, "domain": false, "title": "time UT", "titleFontSize": 16, "titlePadding": 4}},
  "y": {"field": "a", "type": "quantitative", "scale": {"domain": [11.4, 263], "range": [403, 303], "nice": false, "zero": false}, "axis": {"orient": "right", "values": [50,100,150,200,250], "tickSize": -7, "labels": false, "domain": false, "title": "10 - 15 keV", "titleAngle": 270, "titleX": 20, "titleY": 355, "titleAlign": "center", "titleBaseline": "middle", "titleFontSize": 21}}}},
{"data": {"name": "p4"}, "mark": {"type": "point", "opacity": 0},
 "encoding": {
  "x": {"field": "t", "type": "quantitative", "scale": {"domain": [0, 1440], "nice": false, "zero": false}, "axis": {"orient": "bottom", "values": [30,60,90,150,180,210,270,300,330,390,420,450,510,540,570,630,660,690,750,780,810,870,900,930,990,1020,1050,1110,1140,1170,1230,1260,1290,1350,1380,1410], "tickSize": -5, "labels": false, "domain": false, "title": null}},
  "y": {"field": "a", "type": "quantitative", "scale": {"domain": [11.4, 263], "range": [403, 303], "nice": false, "zero": false}, "axis": {"orient": "right", "values": [20,30,40,50,60,70,80,90,100,110,120,130,140,150,160,170,180,190,200,210,220,230,240,250,260], "tickSize": -4, "labels": false, "domain": false, "title": null}}}}
],
"resolve": {"scale": {"y": "independent"}, "axis": {"x": "independent", "y": "independent"}},
"config": {
  "font": "Liberation Sans",
  "view": {"stroke": "black", "strokeWidth": 1},
  "axis": {"grid": false, "tickColor": "black", "domainColor": "black", "labelColor": "black", "titleColor": "black", "labelFont": "Liberation Sans", "titleFont": "Liberation Sans", "tickWidth": 1, "domainWidth": 1, "labelOverlap": false, "labelFlush": false, "titleFontWeight": "normal"}
}
}
